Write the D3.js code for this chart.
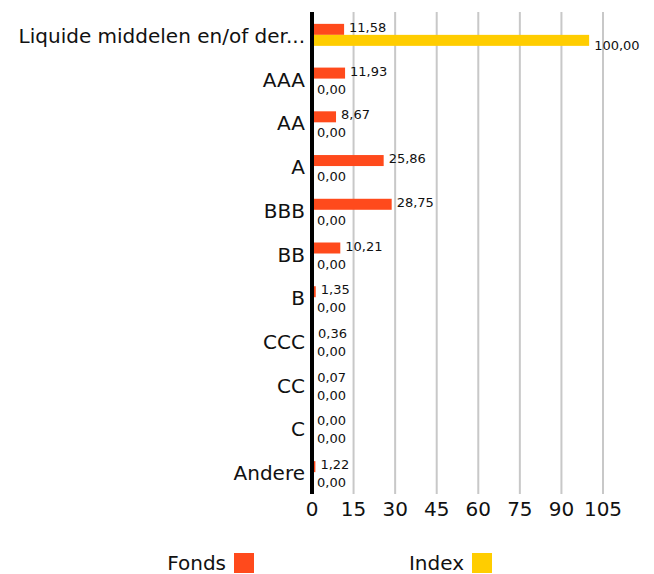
<!DOCTYPE html>
<html>
<head>
<meta charset="utf-8">
<script src="https://cdn.jsdelivr.net/npm/d3@7"></script>
<style>
  body { margin: 0; background: #fff; }
  text { font-family: "DejaVu Sans", sans-serif; fill: #111; }
</style>
</head>
<body>
<svg id="canvas" width="654" height="574"></svg>
<script>
// Data
let categories = ['Liquide middelen en/of derivaten', 'AAA', 'AA', 'A', 'BBB', 'BB', 'B', 'CCC', 'CC', 'C', 'Andere'];
let fondsValues = [11.58, 11.93, 8.67, 25.86, 28.75, 10.21, 1.35, 0.36, 0.07, 0.00, 1.22];
let indexValues = [100.00, 0, 0, 0, 0, 0, 0, 0, 0, 0, 0];
let xTicks = [0, 15, 30, 45, 60, 75, 90, 105];
let seriesNames = ['Fonds', 'Index'];
let colors = ['#ff4a1c', '#ffcd00'];

let svg = d3.select('#canvas');
let x = d3.scaleLinear().domain([0, 105]).range([312, 603]);
let y = d3.scaleBand().domain(categories).range([13, 494]);
let barH = 11;
let fmt = (v) => v.toFixed(2).replace('.', ',');

// Gridlines
svg.selectAll('.grid')
    .data(xTicks.slice(1))
    .enter()
    .append('line')
    .attr('x1', (d) => x(d))
    .attr('x2', (d) => x(d))
    .attr('y1', 12)
    .attr('y2', 494)
    .attr('stroke', '#c8c8c8')
    .attr('stroke-width', 2);

// Tick labels
svg.selectAll('.tick')
    .data(xTicks)
    .enter()
    .append('text')
    .attr('x', (d) => x(d))
    .attr('y', 516)
    .attr('text-anchor', 'middle')
    .attr('font-size', 20)
    .text((d) => d);

// Category labels (long ones cut off like the original)
svg.selectAll('.cat')
    .data(categories)
    .enter()
    .append('text')
    .attr('x', 305)
    .attr('y', (d) => y(d) + y.bandwidth() / 2 + 8)
    .attr('text-anchor', 'end')
    .attr('font-size', 20)
    .text((d) => d.length > 26 ? d.slice(0, 26) + '...' : d);

// Fonds bars
svg.selectAll('.fonds')
    .data(fondsValues)
    .enter()
    .append('rect')
    .attr('x', x(0))
    .attr('y', (d, i) => y(categories[i]) + y.bandwidth() / 2 - barH)
    .attr('width', (d) => x(d) - x(0))
    .attr('height', barH)
    .attr('fill', colors[0]);

// Index bars
svg.selectAll('.index')
    .data(indexValues)
    .enter()
    .append('rect')
    .attr('x', x(0))
    .attr('y', (d, i) => y(categories[i]) + y.bandwidth() / 2)
    .attr('width', (d) => x(d) - x(0))
    .attr('height', barH)
    .attr('fill', colors[1]);

// Value labels
svg.selectAll('.fl')
    .data(fondsValues)
    .enter()
    .append('text')
    .attr('x', (d) => x(d) + 5)
    .attr('y', (d, i) => y(categories[i]) + y.bandwidth() / 2 - 3)
    .attr('font-size', 13)
    .text(fmt);

svg.selectAll('.il')
    .data(indexValues)
    .enter()
    .append('text')
    .attr('x', (d) => x(d) + 5)
    .attr('y', (d, i) => y(categories[i]) + y.bandwidth() / 2 + 15)
    .attr('font-size', 13)
    .text(fmt);

// Axis line
svg.append('line')
    .attr('x1', x(0))
    .attr('x2', x(0))
    .attr('y1', 12)
    .attr('y2', 494)
    .attr('stroke', '#000')
    .attr('stroke-width', 4);

// Legend
let legendX = [226, 464];
seriesNames.forEach((name, i) => {
    svg.append('text')
        .attr('x', legendX[i])
        .attr('y', 570)
        .attr('text-anchor', 'end')
        .attr('font-size', 20)
        .text(name);
    svg.append('rect')
        .attr('x', legendX[i] + 8)
        .attr('y', 553)
        .attr('width', 20)
        .attr('height', 20)
        .attr('fill', colors[i]);
});
</script>
</body>
</html>
